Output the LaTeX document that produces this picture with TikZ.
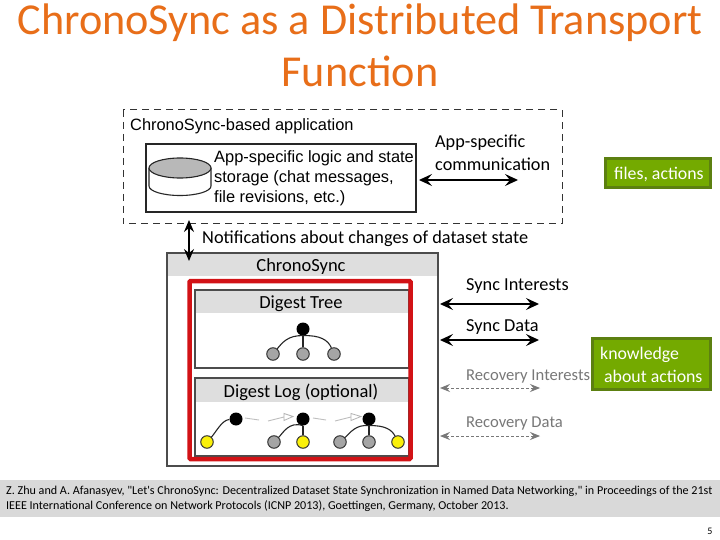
\documentclass[tikz,border=0pt]{standalone}
\usepackage{fontspec}
\setmainfont{Carlito}
\newfontfamily\capf{Carlito}
\newfontfamily\arialf{Liberation Sans}
\usetikzlibrary{arrows.meta}
\definecolor{ttl}{RGB}{232,110,25}
\definecolor{grn}{RGB}{116,170,0}
\definecolor{grnb}{RGB}{92,128,16}
\definecolor{hdr}{RGB}{222,222,222}
\definecolor{red1}{RGB}{210,18,22}
\definecolor{rec}{RGB}{120,120,120}
\definecolor{nodeg}{RGB}{165,165,165}
\definecolor{ylw}{RGB}{250,240,10}
\tikzset{
 x=1pt,y=-1pt,
 title/.style={font=\fontsize{44.2}{44}\selectfont,text=ttl,anchor=base,inner sep=0},
 afont/.style={font=\arialf\fontsize{16.4}{20}\selectfont,anchor=west,inner sep=0,align=left},
 cfont/.style={font=\fontsize{18.3}{20}\selectfont,anchor=west,inner sep=0},
 rfont/.style={font=\fontsize{16.6}{20}\selectfont,anchor=west,inner sep=0,text=rec},
 hfont/.style={font=\fontsize{18.5}{20}\selectfont,anchor=center,inner sep=0},
 tag/.style={fill=grn,draw=grnb,line width=3pt},
 tagtext/.style={font=\fontsize{17.8}{20}\selectfont,text=white,anchor=west,inner sep=0},
 dbl/.style={line width=1.3pt,black,{Stealth[length=13pt,width=12pt,inset=5pt]}-{Stealth[length=13pt,width=12pt,inset=5pt]}},
 dbls/.style={draw=rec,densely dashed,line width=1pt,{Stealth[length=10pt,width=8pt,inset=3.5pt]}-{Stealth[length=10pt,width=8pt,inset=3.5pt]}},
 boxline/.style={line width=1.2pt,black!70},
 black node/.style={circle,fill=black,minimum size=13pt,inner sep=0},
 gray node/.style={circle,fill=nodeg,draw=black!80,line width=1pt,minimum size=12.5pt,inner sep=0},
 yellow node/.style={circle,fill=ylw,draw=black!80,line width=1pt,minimum size=12.5pt,inner sep=0},
 edge line/.style={line width=1.1pt,black!85},
 ghost/.style={draw=black!25,line width=.9pt},
 ghost tip/.style={draw=black!30,fill=white,line width=.8pt},
}
\begin{document}
\begin{tikzpicture}
\useasboundingbox (0,0) rectangle (720,540);
\fill[white] (0,0) rectangle (720,540);
\node[title] (t1) at (360,34.5) {ChronoSync as a Distributed Transport};
\node[title] (t2) at (360,87) {Function};
% application box
\draw[dash pattern=on 7pt off 5pt,line width=1pt,black!80] (123,110) rectangle (562,224);
\node[afont] (applabel) at (130,126) {ChronoSync-based application};
\draw[line width=1.1pt,black!85] (146,144) rectangle (416,212);
\node[afont] (storage) at (214,178) {App-specific logic and state\\storage (chat messages,\\file revisions, etc.)};
% cylinder
\draw[line width=1.1pt,black!85,fill=white] (149,168) -- (149,186) arc[start angle=180,end angle=0,x radius=31,y radius=9.5] -- (211,168);
\draw[line width=1.1pt,black!85,fill=black!28] (180,168) ellipse[x radius=31,y radius=10];
\node[cfont,align=left,font=\fontsize{18.2}{22.5}\selectfont] (comm) at (435,153) {App-specific\\communication};
\coordinate (c1) at (419,180);
\coordinate (c2) at (518,180);
\draw[dbl] (c1) -- (c2);
\node[cfont] (notif) at (202,239) {Notifications about changes of dataset state};
% chronosync box
\fill[hdr] (167,253) rectangle (438,276);
\draw[boxline] (167,253) rectangle (438,466);
\node[hfont] (cs) at (301,267) {ChronoSync};
\coordinate (n1) at (189,220);
\coordinate (n2) at (189,261);
\draw[dbl,{Stealth[length=12pt,width=10pt,inset=4pt]}-{Stealth[length=12pt,width=10pt,inset=4pt]}] (n1) -- (n2);
% digest tree
\fill[hdr] (195,290) rectangle (409,313);
\draw[boxline] (195,290) rectangle (409,368);
\node[hfont] (dt) at (301,304) {Digest Tree};
\node[black node] (r) at (303,329) {};
\node[gray node] (a) at (273,354) {};
\node[gray node] (b) at (303,354) {};
\node[gray node] (c) at (334,354) {};
\draw[edge line] (a) .. controls (282,343) and (288,335) .. (r.south);
\draw[edge line] (r) -- (b);
\draw[edge line] (r.south) .. controls (320,335) and (328,340) .. (c);
% digest log
\fill[hdr] (195,378) rectangle (409,402);
\draw[boxline] (195,378) rectangle (409,456);
\node[hfont] (dl) at (301,392) {Digest Log (optional)};
\node[black node] (l1) at (236,419) {};
\node[yellow node] (l1a) at (207,442) {};
\draw[edge line] (l1a) .. controls (216,432) and (222,420) .. (l1);
\node[black node] (l2) at (303,419) {};
\node[gray node] (l2a) at (274,442) {};
\node[yellow node] (l2b) at (303,442) {};
\draw[edge line] (l2a) .. controls (283,433) and (289,421) .. (l2.south);
\draw[edge line] (l2) -- (l2b);
\node[black node] (l3) at (369,419) {};
\node[gray node] (l3a) at (340,442) {};
\node[gray node] (l3b) at (369,442) {};
\node[yellow node] (l3c) at (398,442) {};
\draw[edge line] (l3a) .. controls (350,433) and (356,424) .. (l3.south);
\draw[edge line] (l3) -- (l3b);
\draw[edge line] (l3.south) .. controls (385,425) and (392,430) .. (l3c);
% ghost arrows
\coordinate (g1) at (245,418);
\coordinate (g2) at (259,420);
\coordinate (g3) at (268,421);
\coordinate (g4) at (284,417);
\draw[ghost] (g1) -- (g2);
\draw[ghost] (g3) -- (g4);
\draw[ghost tip] (284,413.5) -- (293,416.5) -- (284,420.5) -- cycle;
\coordinate (g5) at (313,418);
\coordinate (g6) at (326,420);
\coordinate (g7) at (335,421);
\coordinate (g8) at (351,417);
\draw[ghost] (g5) -- (g6);
\draw[ghost] (g7) -- (g8);
\draw[ghost tip] (351,413.5) -- (361,416.5) -- (351,420.5) -- cycle;
% red frame
\draw[red1,line width=4.5pt,rounded corners=1pt] (189.5,281) rectangle (410.5,459);
% right labels
\coordinate (s1) at (440,304);
\coordinate (s2) at (539,304);
\coordinate (d1) at (440,340);
\coordinate (d2) at (539,340);
\coordinate (ri1) at (440,388);
\coordinate (ri2) at (540,388);
\coordinate (rd1) at (440,436);
\coordinate (rd2) at (540,436);
\node[cfont] (si) at (466,286) {Sync Interests};
\draw[dbl] (s1) -- (s2);
\node[cfont] (sd) at (466,327) {Sync Data};
\draw[dbl] (d1) -- (d2);
\node[rfont] (ri) at (466,377) {Recovery Interests};
\draw[dbls] (ri1) -- (ri2);
\node[rfont] (rd) at (466,424) {Recovery Data};
\draw[dbls] (rd1) -- (rd2);
% tags
\draw[tag] (605.5,158.5) rectangle (710.5,187.5);
\node[tagtext] (tag1t) at (614,174.5) {files, actions};
\draw[tag] (592.5,338.5) rectangle (710.5,389.5);
\node[tagtext] (tag2a) at (600,354.5) {knowledge};
\node[tagtext] (tag2b) at (604,376) {about actions};
% footer
\fill[black!15] (0,480) rectangle (720,517);
\node[anchor=west,inner sep=0,font=\capf\fontsize{12.1}{15}\selectfont,align=left] (ref) at (6,498.5) {Z. Zhu and A. Afanasyev, "Let's ChronoSync: Decentralized Dataset State Synchronization in Named Data Networking," in Proceedings of the 21st\\IEEE International Conference on Network Protocols (ICNP 2013), Goettingen, Germany, October 2013.};
\node[anchor=center,inner sep=0,font=\fontsize{10}{10}\selectfont] (pg) at (710,531) {5};
\end{tikzpicture}
\end{document}
